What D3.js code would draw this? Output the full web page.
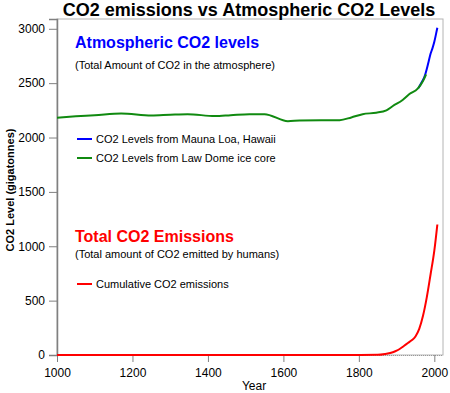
<!DOCTYPE html>
<html>
<head>
<meta charset="utf-8">
<script src="https://cdn.jsdelivr.net/npm/d3@7"></script>
<style>
body { margin: 0; background: #fff; }
text { font-family: Arial, "Liberation Sans", sans-serif; }
</style>
</head>
<body>
<div id="chart"></div>
<script>
// chart data
var lawDomeYears = [1000, 1050, 1100, 1170, 1250, 1300, 1346, 1418, 1460, 1510, 1550, 1612, 1643, 1700, 1749, 1780, 1810, 1846, 1873, 1890, 1916, 1934, 1956, 1970, 1978];
var lawDomeCO2 = [2182, 2195, 2205, 2222, 2203, 2210, 2215, 2197, 2205, 2215, 2215, 2150, 2157, 2160, 2160, 2185, 2215, 2228, 2250, 2290, 2345, 2400, 2450, 2520, 2580];

var maunaLoaYears = [1958, 1965, 1970, 1975, 1980, 1985, 1990, 1995, 2000, 2005, 2008];
var maunaLoaCO2 = [2455, 2500, 2530, 2570, 2630, 2700, 2770, 2820, 2880, 2960, 3010];

var emissionYears = [1000, 1750, 1850, 1870, 1890, 1900, 1910, 1920, 1930, 1940, 1950, 1960, 1970, 1980, 1990, 2000, 2008];
var emissionValues = [0, 0, 2, 10, 25, 40, 60, 85, 110, 135, 170, 240, 360, 530, 740, 960, 1200];

var xTicks = [1000, 1200, 1400, 1600, 1800, 2000];
var yTicks = [0, 500, 1000, 1500, 2000, 2500, 3000];

//size of svg and margin
var svgWidth = 450;
var svgHeight = 393;
var margin = {top: 19, right: 7, bottom: 38, left: 57};
var width = svgWidth - margin.left - margin.right;
var height = svgHeight - margin.top - margin.bottom;

var svg = d3.select("#chart")
  .append("svg")
  .attr("width", svgWidth)
  .attr("height", svgHeight);

var chartGroup = svg.append("g")
  .attr("transform", `translate(${margin.left}, ${margin.top})`);

var xScale = d3.scaleLinear().domain([1000, 2023]).range([0, width]);
var yScale = d3.scaleLinear().domain([0, 3090]).range([height, 0]);

//plot frame
chartGroup.append("rect")
  .attr("width", width).attr("height", height)
  .attr("fill", "none").attr("stroke", "#b4b4b4").attr("stroke-width", 1);
chartGroup.append("line")
  .attr("x1", 0).attr("x2", width).attr("y1", height + 0.5).attr("y2", height + 0.5)
  .attr("stroke", "#999").attr("stroke-dasharray", "1,1");

//axes
var bottomAxis = d3.axisBottom(xScale).tickValues(xTicks).tickFormat(d3.format("d")).tickSizeOuter(0).tickSize(7);
var leftAxis = d3.axisLeft(yScale).tickValues(yTicks).tickFormat(d3.format("d")).tickSizeOuter(0).tickSize(8);

var xAxis = chartGroup.append("g")
  .attr("transform", `translate(0, ${height})`)
  .call(bottomAxis);
xAxis.select(".domain").remove();

var yAxis = chartGroup.append("g").call(leftAxis);

[xAxis, yAxis].forEach(function(a) {
  a.selectAll("line").attr("stroke", "#808080");
  a.selectAll("text").attr("font-size", 12).attr("fill", "#000")
    .attr("font-family", "Arial, 'Liberation Sans', sans-serif");
});
yAxis.select(".domain").attr("stroke", "#808080").attr("stroke-width", 1.5);
yAxis.selectAll("text").attr("x", -12);
xAxis.selectAll("text").attr("y", 13);

//lines
var line = d3.line()
  .x(d => xScale(d[0]))
  .y(d => yScale(d[1]))
  .curve(d3.curveMonotoneX);

chartGroup.append("path")
  .datum(maunaLoaYears.map((y, i) => [y, maunaLoaCO2[i]]))
  .attr("d", line).attr("fill", "none").attr("stroke", "#0000ff").attr("stroke-width", 2);

chartGroup.append("path")
  .datum(lawDomeYears.map((y, i) => [y, lawDomeCO2[i]]))
  .attr("d", line).attr("fill", "none").attr("stroke", "#108a10").attr("stroke-width", 2);

chartGroup.append("path")
  .datum(emissionYears.map((y, i) => [y, emissionValues[i]]))
  .attr("d", line).attr("fill", "none").attr("stroke", "#ff0000").attr("stroke-width", 2);

//title and labels
svg.append("text")
  .attr("x", 249).attr("y", 16)
  .attr("text-anchor", "middle")
  .attr("font-size", 18).attr("font-weight", "bold")
  .text("CO2 emissions vs Atmospheric CO2 Levels");

svg.append("text")
  .attr("x", 254).attr("y", 390)
  .attr("text-anchor", "middle").attr("font-size", 12)
  .text("Year");

svg.append("text")
  .attr("transform", "translate(14, 190) rotate(-90)")
  .attr("text-anchor", "middle")
  .attr("font-size", 11).attr("font-weight", "bold")
  .text("CO2 Level (gigatonnes)");

//annotation blocks
var notes = [
  {text: "Atmospheric CO2 levels", y: 48, size: 16, bold: true, color: "#0000ff"},
  {text: "(Total Amount of CO2 in the atmosphere)", y: 69, size: 11, bold: false, color: "#000"},
  {text: "Total CO2 Emissions", y: 242, size: 16, bold: true, color: "#ff0000"},
  {text: "(Total amount of CO2 emitted by humans)", y: 258, size: 11, bold: false, color: "#000"}
];
svg.selectAll(".note")
  .data(notes)
  .enter()
  .append("text")
  .attr("x", 75)
  .attr("y", d => d.y)
  .attr("font-size", d => d.size)
  .attr("font-weight", d => d.bold ? "bold" : "normal")
  .attr("fill", d => d.color)
  .text(d => d.text);

var legend = [
  {text: "CO2 Levels from Mauna Loa, Hawaii", y: 139, color: "#0000ff"},
  {text: "CO2 Levels from Law Dome ice core", y: 158, color: "#108a10"},
  {text: "Cumulative CO2 emissions", y: 284, color: "#ff0000"}
];
var legendGroup = svg.selectAll(".legend")
  .data(legend)
  .enter()
  .append("g");
legendGroup.append("line")
  .attr("x1", 77).attr("x2", 92)
  .attr("y1", d => d.y).attr("y2", d => d.y)
  .attr("stroke", d => d.color).attr("stroke-width", 2);
legendGroup.append("text")
  .attr("x", 96).attr("y", d => d.y + 4)
  .attr("font-size", 11)
  .text(d => d.text);
</script>
</body>
</html>
